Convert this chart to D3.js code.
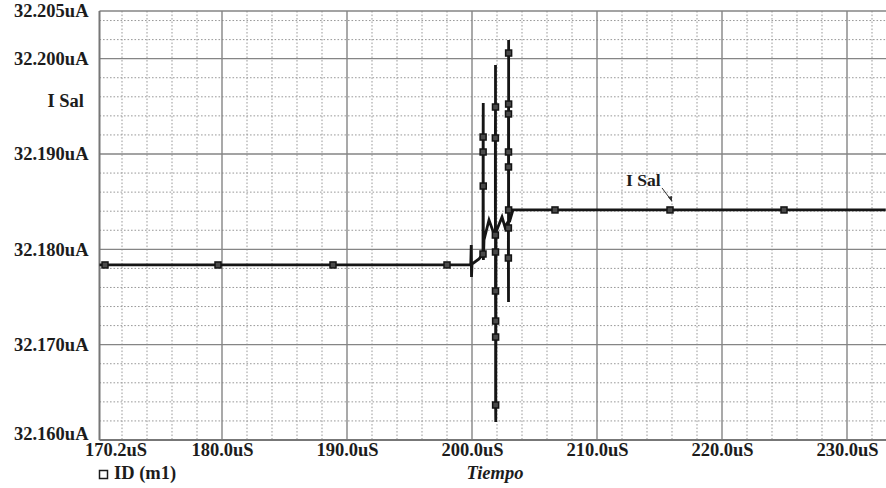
<!DOCTYPE html>
<html>
<head>
<meta charset="utf-8">
<script src="https://cdn.jsdelivr.net/npm/d3@7"></script>
<style>
  body { margin: 0; background: #fff; }
  svg { display: block; }
  text { font-family: "Liberation Serif", "Times New Roman", serif; font-weight: bold; fill: #1c1c1c; }
</style>
</head>
<body>
<svg width="886" height="488"></svg>
<script>
// time in uS, current in uA
const timeUs = [170.2, 170.64, 179.68, 188.88, 198.0, 199.90, 199.94, 199.96, 200.0, 200.56, 200.88,
  200.89, 200.89, 200.90, 200.90, 200.91,
  200.96, 201.36, 201.76,
  201.87, 201.87, 201.88, 201.88, 201.88, 201.88, 201.89, 201.89, 201.89, 201.90,
  201.92, 202.40, 202.64, 202.88,
  202.91, 202.91, 202.92, 202.92, 202.92, 202.92, 202.93, 202.93, 202.93, 202.93,
  202.99, 203.28, 206.64, 215.84, 224.96, 233.1]
const currentUa = [32.17836, 32.17836, 32.17836, 32.17836, 32.17836, 32.17836, 32.18046, 32.17710, 32.17846, 32.17899, 32.17951,
  32.19021, 32.19178, 32.19535, 32.18664, 32.17888,
  32.18098, 32.18308, 32.18161,
  32.18150, 32.19168, 32.19493, 32.19934, 32.17972, 32.17563, 32.17248, 32.17080, 32.16367, 32.16189,
  32.18182, 32.18339, 32.18234, 32.18287,
  32.18224, 32.17909, 32.17448, 32.18864, 32.19021, 32.19420, 32.19524, 32.20059, 32.20196, 32.18413,
  32.18287, 32.18413, 32.18413, 32.18413, 32.18413, 32.18413]
const marked = [0, 1, 1, 1, 1, 0, 0, 0, 0, 0, 1,
  1, 1, 0, 1, 0,
  0, 0, 0,
  1, 1, 1, 0, 1, 1, 1, 1, 1, 0,
  0, 0, 0, 0,
  1, 1, 0, 1, 1, 1, 1, 1, 0, 1,
  0, 0, 1, 1, 1, 0]

const xTicks = [170.2, 180, 190, 200, 210, 220, 230]
const yTicks = [32.205, 32.200, 32.190, 32.180, 32.170, 32.160]
const xMajor = [180, 190, 200, 210, 220, 230]
const yMajor = [32.170, 32.180, 32.190, 32.200]
const xMinor = [172, 174, 176, 178, 182, 184, 186, 188, 192, 194, 196, 198, 202, 204, 206, 208, 212, 214, 216, 218, 222, 224, 226, 228, 232]
const yMinor = [32.162, 32.164, 32.166, 32.168, 32.172, 32.174, 32.176, 32.178, 32.182, 32.184, 32.186, 32.188,
  32.192, 32.194, 32.196, 32.198, 32.202, 32.204]

const yTitle = 'I Sal'
const traceName = 'ID (m1)'
const xTitle = 'Tiempo'

const svg = d3.select('svg')
const plotL = 99.5, plotR = 886, plotT = 11, plotB = 440

const x = d3.scaleLinear().domain([170.2, 233.12]).range([plotL, plotR])
const y = d3.scaleLinear().domain([32.160, 32.205]).range([plotB, plotT])

const grid = svg.append('g')

grid.selectAll('.vminor').data(xMinor)
  .enter().append('line')
    .attr('x1', d => x(d)).attr('x2', d => x(d))
    .attr('y1', plotT).attr('y2', plotB)
    .attr('stroke', '#999')
    .attr('stroke-width', 1)
    .attr('stroke-dasharray', '1.6,1.9')

grid.selectAll('.hminor').data(yMinor)
  .enter().append('line')
    .attr('x1', plotL).attr('x2', plotR)
    .attr('y1', d => y(d)).attr('y2', d => y(d))
    .attr('stroke', '#999')
    .attr('stroke-width', 1)
    .attr('stroke-dasharray', '1.6,1.9')

grid.selectAll('.vmajor').data(xMajor)
  .enter().append('line')
    .attr('x1', d => x(d)).attr('x2', d => x(d))
    .attr('y1', plotT).attr('y2', plotB)
    .attr('stroke', '#858585')
    .attr('stroke-width', 1.4)

grid.selectAll('.hmajor').data(yMajor.concat([32.205]))
  .enter().append('line')
    .attr('x1', plotL).attr('x2', plotR)
    .attr('y1', d => y(d)).attr('y2', d => y(d))
    .attr('stroke', '#858585')
    .attr('stroke-width', 1.4)

// frame: left and bottom
svg.append('line')
  .attr('x1', plotL).attr('x2', plotL).attr('y1', plotT).attr('y2', plotB)
  .attr('stroke', '#777').attr('stroke-width', 2)
svg.append('line')
  .attr('x1', plotL).attr('x2', plotR).attr('y1', plotB).attr('y2', plotB)
  .attr('stroke', '#777').attr('stroke-width', 2)

// axes labels
const xAxis = svg.append('g')
  .attr('transform', `translate(0,${plotB})`)
  .call(d3.axisBottom(x).tickValues(xTicks).tickSize(0).tickPadding(3)
    .tickFormat(d => d3.format('.1f')(d) + 'uS'))
xAxis.select('.domain').remove()
xAxis.selectAll('text')
  .style('font-size', '18.5px')
  .attr('fill', '#1c1c1c')
  .attr('dx', (d, i) => i === 0 ? 16 : 0)

const yAxis = svg.append('g')
  .attr('transform', `translate(${plotL},0)`)
  .call(d3.axisLeft(y).tickValues(yTicks).tickSize(0).tickPadding(11)
    .tickFormat(d => d3.format('.3f')(d) + 'uA'))
yAxis.select('.domain').remove()
yAxis.selectAll('text')
  .style('font-size', '18.5px')
  .attr('fill', '#1c1c1c')
  .attr('dy', (d, i) => i === yTicks.length - 1 ? '-0.02em' : '0.32em')

svg.append('text')
  .attr('x', 84).attr('y', y(32.1955))
  .attr('dy', '0.32em')
  .attr('text-anchor', 'end')
  .style('font-size', '18.5px')
  .text(yTitle)

// trace
const pts = timeUs.map((t, i) => ({ t, v: currentUa[i], m: marked[i] }))

svg.append('path')
  .datum(pts)
  .attr('fill', 'none')
  .attr('stroke', '#151515')
  .attr('stroke-width', 2.8)
  .attr('d', d3.line().x(d => x(d.t)).y(d => y(d.v)))

svg.selectAll('.marker').data(pts.filter(d => d.m))
  .enter().append('rect')
    .attr('class', 'marker')
    .attr('x', d => x(d.t) - 3)
    .attr('y', d => y(d.v) - 3)
    .attr('width', 6)
    .attr('height', 6)
    .attr('fill', '#4a4a4a')
    .attr('stroke', '#141414')
    .attr('stroke-width', 1.5)

// annotation near the settled value
const labelPt = pts[46]
svg.append('text')
  .attr('x', x(labelPt.t) - 44).attr('y', y(labelPt.v) - 24)
  .style('font-size', '17.5px')
  .text(yTitle)
svg.append('line')
  .attr('x1', x(labelPt.t) - 8).attr('y1', y(labelPt.v) - 22)
  .attr('x2', x(labelPt.t) + 1).attr('y2', y(labelPt.v) - 10)
  .attr('stroke', '#333').attr('stroke-width', 1)
svg.append('path')
  .attr('d', d3.line()([[x(labelPt.t) - 2, y(labelPt.v) - 13], [x(labelPt.t) + 2, y(labelPt.v) - 8], [x(labelPt.t) + 2, y(labelPt.v) - 14]]))
  .attr('fill', '#333')

// legend and x title
svg.append('rect')
  .attr('x', 99.5).attr('y', 470.5).attr('width', 8).attr('height', 8)
  .attr('fill', 'none').attr('stroke', '#1c1c1c').attr('stroke-width', 1.5)
svg.append('text')
  .attr('x', 114).attr('y', 479)
  .style('font-size', '18.5px')
  .text(traceName)
svg.append('text')
  .attr('x', 495).attr('y', 479)
  .attr('text-anchor', 'middle')
  .style('font-size', '18.5px')
  .style('font-style', 'italic')
  .text(xTitle)
</script>
</body>
</html>
